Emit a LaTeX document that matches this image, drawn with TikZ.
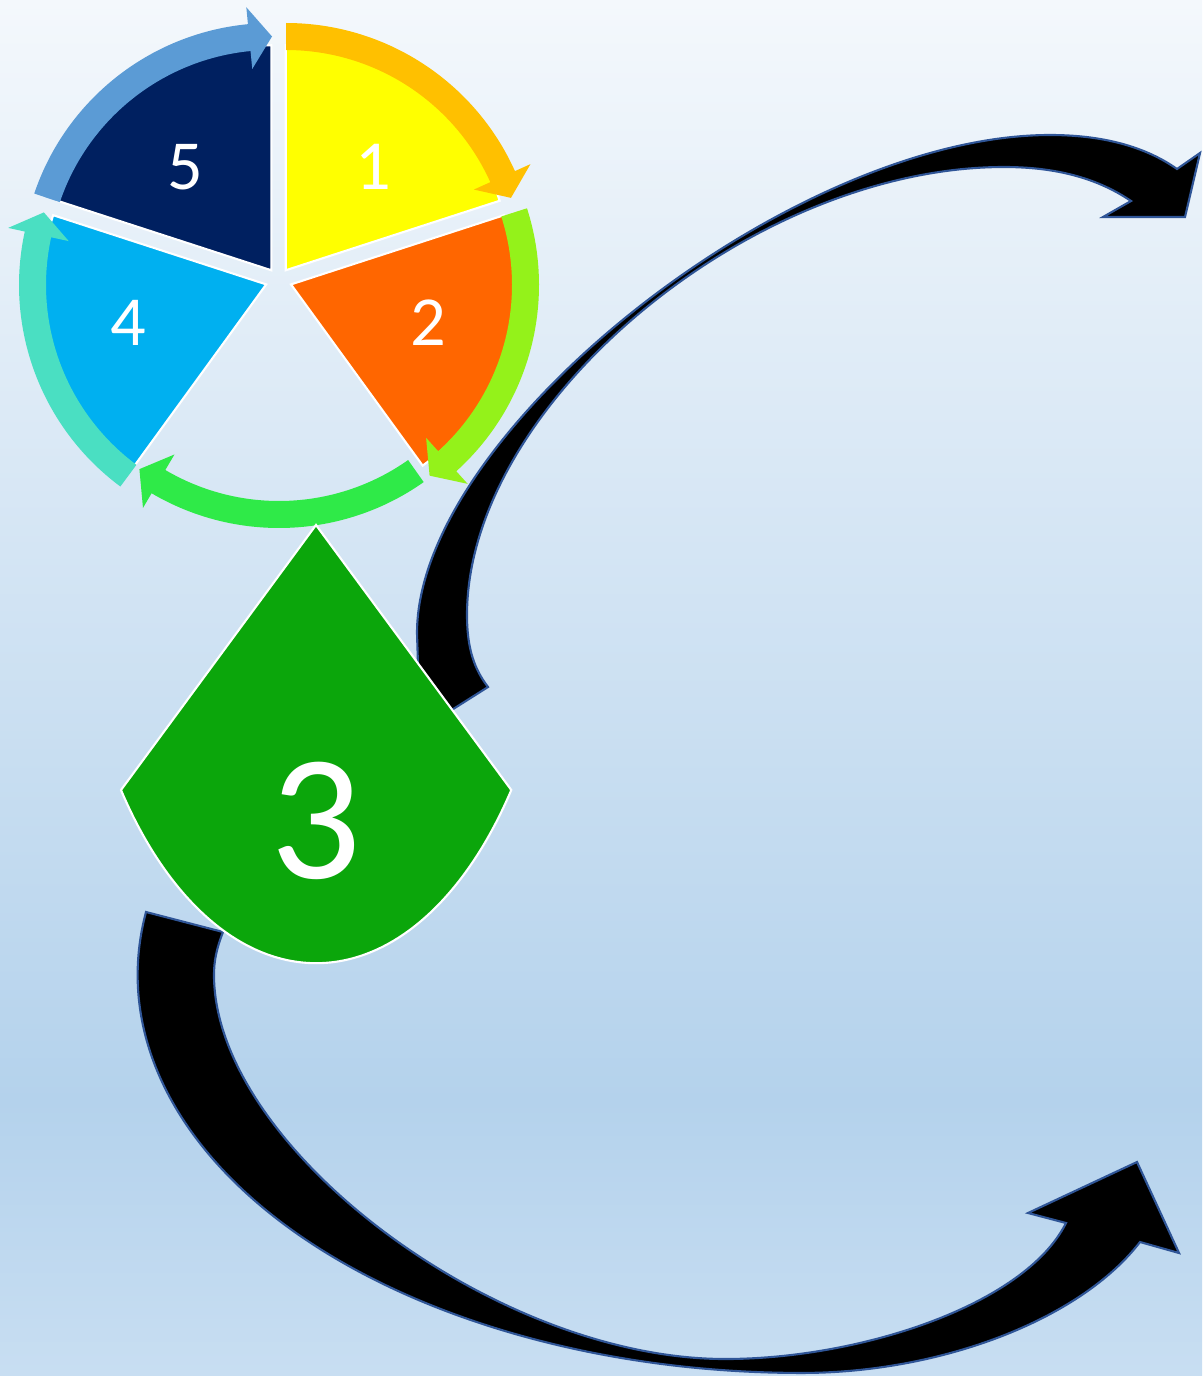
\documentclass[tikz,border=0pt]{standalone}
\usepackage{fontspec}
\setmainfont{Carlito}
\definecolor{bgtop}{HTML}{F4F8FC}
\definecolor{bgmid}{HTML}{B4D2EC}
\definecolor{bgbot}{HTML}{C8DEF2}
\definecolor{c1fill}{HTML}{FFFF00}
\definecolor{c1band}{HTML}{FFC000}
\definecolor{c2fill}{HTML}{FF6600}
\definecolor{c2band}{HTML}{94F21A}
\definecolor{c3fill}{HTML}{0BA60B}
\definecolor{c3band}{HTML}{2FEA48}
\definecolor{c4fill}{HTML}{00B0F0}
\definecolor{c4band}{HTML}{4ADFC2}
\definecolor{c5fill}{HTML}{002060}
\definecolor{c5band}{HTML}{5B9BD5}
\definecolor{arrowline}{HTML}{2F5597}
\pgfdeclareverticalshading{bgshade}{100bp}{color(0bp)=(bgbot); color(25bp)=(bgbot); color(35bp)=(bgmid); color(75bp)=(bgtop); color(100bp)=(bgtop)}
\tikzset{
  segfill/.style={fill=#1, draw=white, line width=0.6pt, line join=miter},
  bigarrow/.style={fill=black, draw=arrowline, line width=0.6pt, line join=miter},
  numlabel/.style={text=white, font=\fontsize{20}{24}\selectfont, inner sep=0pt},
  biglabel/.style={text=white, font=\fontsize{51}{60}\selectfont, inner sep=0pt},
}
% band: colour, centre x, centre y, start angle, tip angle
\newcommand{\cycleband}[5]{%
  \fill[#1, shift={(#2,#3)}] (#4:251) arc[start angle=#4, end angle=#5-5.5, radius=251]
    -- (#5-5.5:268) -- (#5:237.5) -- (#5-5.5:206) -- (#5-5.5:224)
    arc[start angle=#5-5.5, end angle=#4, radius=224] -- cycle;}
\begin{document}
\begin{tikzpicture}[x=0.01cm, y=0.01cm, yscale=-1]
\useasboundingbox (0,0) rectangle (1202,1376);
\fill[shading=bgshade] (0,0) rectangle (1202,1376);

% upper curved arrow (tail hidden behind segment 3)
\filldraw[bigarrow]
  (420,730) -- (417,633)
  .. controls (417,432) and (792,135) .. (1050,135)
  .. controls (1110,135) and (1150,150) .. (1177,169)
  -- (1200,153) -- (1185,217) -- (1103,217) -- (1131,201)
  .. controls (1100,180) and (1060,167) .. (1004,167)
  .. controls (752,167) and (467,404) .. (467,615)
  .. controls (467,650) and (475,670) .. (488,687)
  -- cycle;
% lower curved arrow
\filldraw[bigarrow]
  (146,912) arc[start angle=189.1, end angle=90, x radius=664, y radius=398]
  .. controls (940,1373) and (1080,1320) .. (1140,1242)
  -- (1179,1253) -- (1137,1162) -- (1028,1213) -- (1066,1223)
  .. controls (1025,1305) and (860,1359) .. (725,1359)
  .. controls (495,1359) and (214,1146) .. (214,975)
  .. controls (214,962) and (216,950) .. (223,932)
  -- cycle;

% pie segments
\filldraw[segfill=c1fill] (285.7,270.3) -- ++(-90:225) arc[start angle=-90, end angle=-18, radius=225] -- cycle;
\filldraw[segfill=c2fill] (291,284.4) -- ++(-18:224) arc[start angle=-18, end angle=54, radius=224] -- cycle;
\filldraw[segfill=c4fill] (266.2,284.4) -- ++(126:224) arc[start angle=126, end angle=198, radius=224] -- cycle;
\filldraw[segfill=c5fill] (271.4,270.3) -- ++(198:225) arc[start angle=198, end angle=270, radius=225] -- cycle;

% circular arrows
\cycleband{c1band}{286}{274}{-90}{-18.7}
\cycleband{c2band}{288}{285}{-17.8}{53.4}
\cycleband{c3band}{279}{277}{54.8}{126}
\cycleband{c4band}{270}{285}{126.6}{197.8}
\cycleband{c5band}{272}{274}{198.7}{270}

% exploded segment 3
\filldraw[segfill=c3fill] (316,525) -- (121,790) arc[start angle=142.8, end angle=37.2, x radius=245, y radius=438] -- cycle;

\node[numlabel] (n1) at (373.5,167) {1};
\node[numlabel] (n2) at (428.6,322.5) {2};
\node[numlabel] (n4) at (128.6,322.5) {4};
\node[numlabel] (n5) at (185,167) {5};
\node[biglabel] (n3) at (316,821) {3};
\end{tikzpicture}
\end{document}
